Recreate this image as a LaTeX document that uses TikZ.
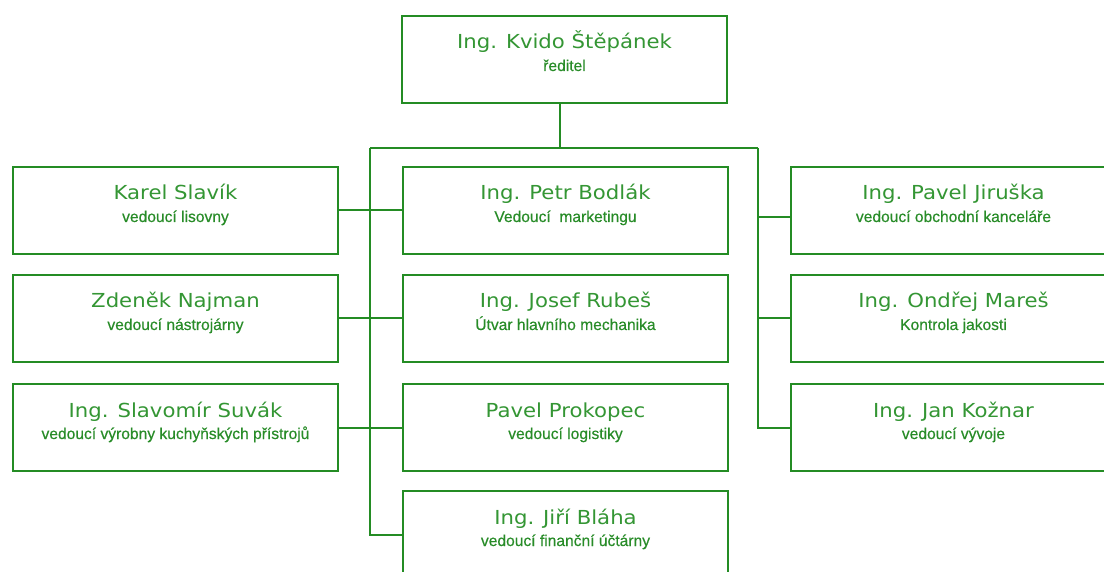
\documentclass[tikz,border=0pt]{standalone}
\usepackage{fontspec}
\newfontfamily\namefont[FakeStretch=1.1]{DejaVu Sans}
\newfontfamily\subfont[FakeBold=0.4]{Liberation Sans}
\definecolor{wiregreen}{RGB}{36,140,36}
\definecolor{namegreen}{RGB}{52,150,52}
\definecolor{subgreen}{RGB}{40,140,40}
\tikzset{
  unit/.style={draw=wiregreen, line width=2pt, minimum width=325pt,
    minimum height=87pt, inner sep=0pt, anchor=north west},
  nm/.style={text=namegreen, inner sep=0pt, anchor=base,
    font=\namefont\fontsize{19.3}{22}\selectfont},
  sb/.style={text=subgreen, inner sep=0pt, anchor=base,
    font=\subfont\fontsize{15.6}{18}\selectfont},
  wire/.style={draw=wiregreen, line width=2pt}
}
% one box of the chart: #1 node name, #2/#3 top-left corner, #4 person, #5 role
\newcommand\orgunit[5]{%
  \node[unit] (#1) at (#2,#3) {};
  \node[nm] (#1-n) at ([yshift=-34pt]#1.north) {#4};
  \node[sb] (#1-s) at ([yshift=-56pt]#1.north) {#5};
}
\begin{document}
\begin{tikzpicture}[x=1pt,y=-1pt]
\useasboundingbox (0,0) rectangle (1104,572);
\fill[white] (0,0) rectangle (1104,572);
\clip (0,0) rectangle (1104,572);

% director
\orgunit{top}{401}{15}{Ing. Kvido Štěpánek}{ředitel}

% left column
\orgunit{l1}{12}{166}{Karel Slavík}{vedoucí lisovny}
\orgunit{l2}{12}{274}{Zdeněk Najman}{vedoucí nástrojárny}
\orgunit{l3}{12}{383}{Ing. Slavomír Suvák}{vedoucí výrobny kuchyňských přístrojů}

% middle column
\orgunit{m1}{402}{166}{Ing. Petr Bodlák}{Vedoucí\ \ marketingu}
\orgunit{m2}{402}{274}{Ing. Josef Rubeš}{Útvar hlavního mechanika}
\orgunit{m3}{402}{383}{Pavel Prokopec}{vedoucí logistiky}
\orgunit{m4}{402}{490}{Ing. Jiří Bláha}{vedoucí finanční účtárny}

% right column
\orgunit{r1}{790}{166}{Ing. Pavel Jiruška}{vedoucí obchodní kanceláře}
\orgunit{r2}{790}{274}{Ing. Ondřej Mareš}{Kontrola jakosti}
\orgunit{r3}{790}{383}{Ing. Jan Kožnar}{vedoucí vývoje}

% bus lines
\coordinate (busT) at (560,148);
\coordinate (busL) at (370,148);
\coordinate (busR) at (758,148);
\coordinate (r1c) at ([yshift=-7pt]r1.west);

\draw[wire] (top.south -| busT) -- (busT);
\draw[wire] (busL) -- (busR);
\draw[wire] (busL) -- (busL |- m4.west) -- (m4.west);
\draw[wire] (busR) -- (busR |- r3.west) -- (r3.west);

% left and middle boxes joined across the trunk
\draw[wire] (l1.east) -- (m1.west);
\draw[wire] (l2.east) -- (m2.west);
\draw[wire] (l3.east) -- (m3.west);

% right branches
\draw[wire] (busR |- r1c) -- (r1c);
\draw[wire] (busR |- r2.west) -- (r2.west);
\end{tikzpicture}
\end{document}
